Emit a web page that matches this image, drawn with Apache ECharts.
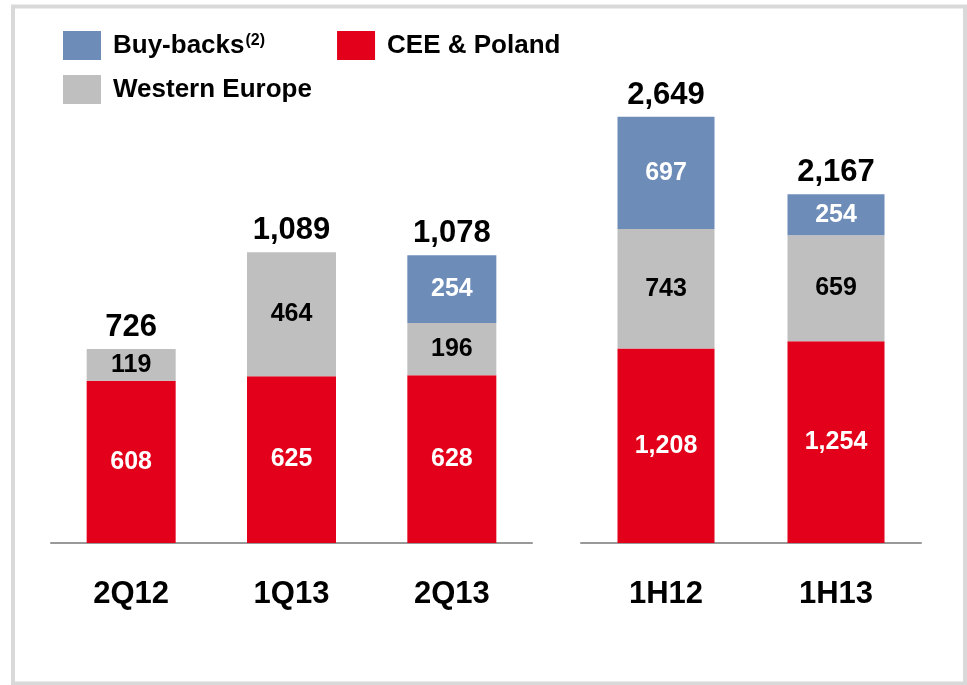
<!DOCTYPE html>
<html>
<head>
<meta charset="utf-8">
<title>Buy-backs / CEE & Poland / Western Europe</title>
<script src="https://cdn.jsdelivr.net/npm/echarts@6/dist/echarts.min.js"></script>
<style>
  html,body{margin:0;padding:0;background:#fff;}
  #main{width:967px;height:685px;}
</style>
</head>
<body>
<div id="main"></div>
<script>
// quarters (left block)
const quarters = ["2Q12", "1Q13", "2Q13"];
const ceeQ = [608, 625, 628];
const westQ = [119, 464, 196];
const buyQ = ["-", "-", 254];
const totalQ = [726, 1089, 1078];

// half years (right block)
const halves = ["1H12", "1H13"];
const ceeH = [1208, 1254];
const westH = [743, 659];
const buyH = [697, 254];
const totalH = [2649, 2167];

const FONT = "Liberation Sans, Arial, sans-serif";
const RED = "#e2001a";
const GREY = "#bfbfbf";
const BLUE = "#6d8cb8";

function segment(name, data, color, labelColor, idx, width) {
  return {
    name: name,
    type: "bar",
    stack: "s" + idx,
    xAxisIndex: idx,
    yAxisIndex: idx,
    barWidth: width,
    data: data,
    itemStyle: { color: color },
    label: {
      show: true,
      position: "inside",
      color: labelColor,
      fontFamily: FONT,
      fontWeight: "bold",
      fontSize: 25,
      formatter: p => p.value.toLocaleString("en-US")
    }
  };
}

function totals(data, idx, width) {
  return {
    name: "total",
    type: "bar",
    xAxisIndex: idx,
    yAxisIndex: idx,
    barWidth: width,
    barGap: "-100%",
    silent: true,
    z: 1,
    data: data,
    itemStyle: { color: "transparent" },
    label: {
      show: true,
      position: "top",
      distance: 6,
      color: "#000",
      fontFamily: FONT,
      fontWeight: "bold",
      fontSize: 31,
      formatter: p => p.value.toLocaleString("en-US")
    }
  };
}

function catAxis(cats, idx) {
  return {
    type: "category",
    gridIndex: idx,
    data: cats,
    axisTick: { show: false },
    axisLine: { lineStyle: { color: "#999", width: 2 } },
    axisLabel: {
      color: "#000",
      fontFamily: FONT,
      fontWeight: "bold",
      fontSize: 31,
      margin: 36
    }
  };
}

function valAxis(max, idx) {
  return {
    type: "value",
    gridIndex: idx,
    min: 0,
    max: max,
    show: false,
    splitLine: { show: false }
  };
}

const legendText = {
  color: "#000",
  fontFamily: FONT,
  fontWeight: "bold",
  fontSize: 26,
  padding: [0, 0, 0, 7],
  rich: {
    a: { fontFamily: FONT, fontWeight: "bold", fontSize: 26, color: "#000" },
    s: { fontFamily: FONT, fontWeight: "bold", fontSize: 16, color: "#000", verticalAlign: "top", padding: [0, 0, 10, 1] }
  }
};

const chart = echarts.init(document.getElementById("main"));
chart.setOption({
  animation: false,
  graphic: [{
    type: "rect",
    shape: { x: 13, y: 6.5, width: 952, height: 677 },
    style: { fill: "none", stroke: "#d9d9d9", lineWidth: 4 },
    z: -1
  }],
  legend: [
    {
      left: 58, top: 26,
      itemWidth: 38, itemHeight: 29, itemGap: 72,
      icon: "rect",
      data: ["Buy-backs", "CEE & Poland"],
      textStyle: legendText,
      formatter: n => n === "Buy-backs" ? "{a|Buy-backs}{s|(2)}" : n
    },
    {
      left: 58, top: 70,
      itemWidth: 38, itemHeight: 29,
      icon: "rect",
      data: ["Western Europe"],
      textStyle: legendText
    }
  ],
  grid: [
    { left: 51, width: 481, top: 142.5, bottom: 142 },
    { left: 581, width: 340, top: 60.2, bottom: 142 }
  ],
  xAxis: [catAxis(quarters, 0), catAxis(halves, 1)],
  yAxis: [valAxis(1500, 0), valAxis(3000, 1)],
  series: [
    segment("CEE & Poland", ceeQ, RED, "#fff", 0, 89),
    segment("Western Europe", westQ, GREY, "#000", 0, 89),
    segment("Buy-backs", buyQ, BLUE, "#fff", 0, 89),
    totals(totalQ, 0, 89),
    segment("CEE & Poland", ceeH, RED, "#fff", 1, 97),
    segment("Western Europe", westH, GREY, "#000", 1, 97),
    segment("Buy-backs", buyH, BLUE, "#fff", 1, 97),
    totals(totalH, 1, 97)
  ]
});
</script>
</body>
</html>
